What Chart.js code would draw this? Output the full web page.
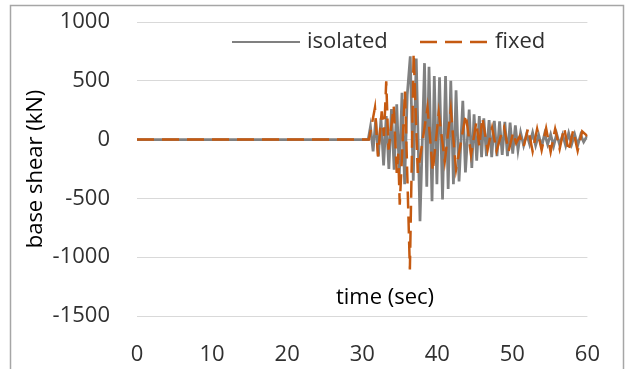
<!DOCTYPE html>
<html>
<head>
<meta charset="utf-8">
<script src="https://cdn.jsdelivr.net/npm/chart.js@4"></script>
<style>
  html, body { margin: 0; padding: 0; background: #ffffff; }
  #wrap { position: relative; width: 626px; height: 369px; }
</style>
</head>
<body>
<div id="wrap"><canvas id="grafico" width="626" height="369"></canvas></div>
<script>
// ------------ Dados ------------ //

var seriesNames = ['isolated', 'fixed'];
var xTicks = [0, 10, 20, 30, 40, 50, 60];
var yTicks = [-1500, -1000, -500, 0, 500, 1000];

// isolated: tempo (s) e cortante na base (kN), picos e vales
var isoTime = [0, 30.8, 31.1, 31.45, 31.8, 32.15, 32.5, 32.85, 33.2, 33.55, 33.9, 34.25, 34.6, 34.95, 35.3, 35.65, 36.0,
    36.4, 36.8, 37.2, 37.7, 38.3, 38.6, 38.9, 39.3, 39.6, 39.95, 40.3, 40.7, 41.1, 41.45, 41.8, 42.15,
    42.5, 42.9, 43.4, 43.75, 44.25, 44.6, 44.9, 45.25, 45.6, 45.9, 46.2, 46.55, 46.9, 47.25, 47.6, 47.95,
    48.3, 48.65, 49.0, 49.35, 49.7, 50.05, 50.4, 50.75, 51.1, 51.5, 51.9, 52.3, 52.7,
    53.1, 53.5, 53.9, 54.3, 54.7, 55.1, 55.5, 55.9, 56.3, 56.7, 57.1, 57.5, 57.9, 58.3, 58.7, 59.1, 59.5, 60.0];
var isoShear = [0, 0, 110, -100, 170, -142, 180, -220, 200, -250, 260, -255, 300, -300, 397, -380, 380,
    708, -350, 690, -695, 650, -400, 620, -525, 540, -380, 530, -510, 540, -420, 500, -380,
    420, -355, 330, -280, 255, -240, 215, -180, 200, -150, 180, -140, 165, -150, 160, -140,
    155, -130, 150, -140, 145, -120, 120, -90, 60, -50, 50, -40, 60,
    -50, 40, -60, 50, -40, 45, -55, 50, -45, 40, -50, 55, -40, 45, -50, 40, -20, 35];

// fixed: tempo (s) e cortante na base (kN)
var fixTime = [0, 30.9, 31.7, 32.1, 32.6, 32.9, 33.2, 33.5, 34.2, 34.6, 34.8, 35.0, 35.7, 36.35, 36.85, 37.4,
    38.7, 39.4, 40.2, 41.0, 41.8, 42.5, 43.8, 44.5, 45.2, 45.6, 46.0, 46.7, 47.3, 47.9, 48.5, 48.9, 49.5,
    50.1, 50.5, 51.0, 51.5, 52.1, 52.7, 53.3, 53.9, 54.5, 55.1, 55.7, 56.3, 56.9, 57.5, 58.1, 58.7, 59.3, 60.0];
var fixShear = [0, 0, 272, -142, 240, 30, 495, -85, 283, -283, -120, -553, 410, -1105, 737, -283,
    272, -269, 228, -184, 255, -255, 212, -127, 150, -60, 187, -85, 100, -95, 40, 105, -100,
    60, -30, 30, -60, 95, -100, 90, -90, 95, -105, 90, -80, 100, -100, 80, -95, 70, 30];

// ------------ Montagem dos pontos ------------ //

function montarPontos(tempos, valores) {
    var pontos = [];
    for (var i = 0; i < tempos.length; i++) {
        pontos.push({ x: tempos[i], y: valores[i] });
    }
    return pontos;
}

var fonte = '"Open Sans", sans-serif';
var corTexto = '#303030';
var corIsolated = '#808080';
var corFixed = '#c55a11';

// ------------ Plugins (moldura, legenda e título do eixo x) ------------ //

var pluginMoldura = {
    id: 'moldura',
    beforeDraw: function (chart) {
        var ctx = chart.ctx;
        ctx.save();
        ctx.fillStyle = '#ffffff';
        ctx.fillRect(0, 0, chart.width, chart.height);
        ctx.strokeStyle = '#a6a6a6';
        ctx.lineWidth = 1.5;
        ctx.strokeRect(10.5, 5.5, 613, 400);
        ctx.restore();
    }
};

var pluginLegenda = {
    id: 'legendaInterna',
    afterDraw: function (chart) {
        var ctx = chart.ctx;
        ctx.save();
        ctx.font = '22px ' + fonte;
        ctx.textBaseline = 'middle';
        ctx.fillStyle = corTexto;

        // isolated
        ctx.strokeStyle = corIsolated;
        ctx.lineWidth = 2;
        ctx.beginPath();
        ctx.moveTo(232, 42);
        ctx.lineTo(300, 42);
        ctx.stroke();
        ctx.fillText(seriesNames[0], 307, 42);

        // fixed
        ctx.strokeStyle = corFixed;
        ctx.lineWidth = 2.5;
        ctx.setLineDash([17, 8]);
        ctx.beginPath();
        ctx.moveTo(420, 42);
        ctx.lineTo(488, 42);
        ctx.stroke();
        ctx.setLineDash([]);
        ctx.fillText(seriesNames[1], 495, 42);

        // título do eixo x dentro da área do gráfico
        ctx.fillStyle = '#000000';
        ctx.textAlign = 'center';
        ctx.fillText('time (sec)', 385, 298);
        ctx.restore();
    }
};

// ------------ Configuração do Gráfico ------------ //

var ctx = document.getElementById('grafico').getContext('2d');
var grafico = new Chart(ctx, {
    type: 'line',
    data: {
        datasets: [{
            label: seriesNames[0],
            data: montarPontos(isoTime, isoShear),
            borderColor: corIsolated,
            borderWidth: 2.75,
            pointRadius: 0,
            tension: 0,
            fill: false,
            order: 2
        }, {
            label: seriesNames[1],
            data: montarPontos(fixTime, fixShear),
            borderColor: corFixed,
            borderWidth: 2.5,
            borderDash: [17, 8],
            pointRadius: 0,
            tension: 0,
            fill: false,
            order: 1 // desenhado por cima
        }]
    },
    options: {
        responsive: false,
        animation: false,
        layout: {
            padding: { left: 0, right: 33, top: 22, bottom: 0 }
        },
        plugins: {
            legend: { display: false },
            tooltip: { enabled: false }
        },
        scales: {
            x: {
                type: 'linear',
                min: 0,
                max: 60,
                afterBuildTicks: function (scale) {
                    scale.ticks = xTicks.map(function (v) { return { value: v }; });
                },
                afterFit: function (scale) { scale.height = 53; },
                grid: { display: false, drawTicks: false },
                border: { display: false },
                ticks: {
                    padding: 26,
                    color: corTexto,
                    font: { family: fonte, size: 22 },
                    callback: function (v) { return String(v); }
                }
            },
            y: {
                min: -1500,
                max: 1000,
                afterBuildTicks: function (scale) {
                    scale.ticks = yTicks.map(function (v) { return { value: v }; });
                },
                afterFit: function (scale) {
                    scale.width = 137;
                    scale.paddingTop = 0;
                    scale.paddingBottom = 0;
                },
                grid: { color: '#d9d9d9', lineWidth: 1, drawTicks: false },
                border: { display: false },
                ticks: {
                    padding: 27,
                    color: corTexto,
                    font: { family: fonte, size: 22 },
                    callback: function (v) { return String(v); }
                },
                title: {
                    display: true,
                    text: 'base shear (kN)',
                    color: '#000000',
                    font: { family: fonte, size: 22 },
                    padding: { top: 23, bottom: 0 }
                }
            }
        }
    },
    plugins: [pluginMoldura, pluginLegenda]
});
</script>
</body>
</html>
